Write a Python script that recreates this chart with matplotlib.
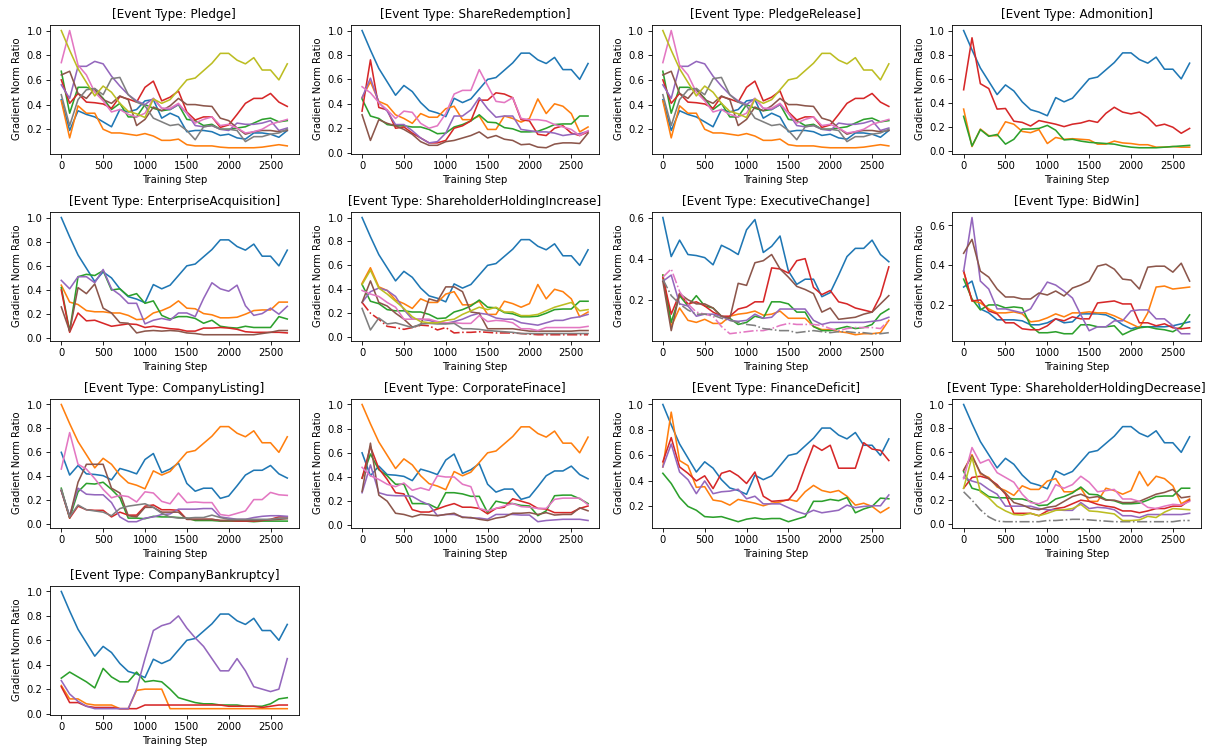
import numpy as np
import matplotlib
matplotlib.use("Agg")
import matplotlib.pyplot as plt

plt.rcParams["font.size"] = 9.5

# --- DATA ---
steps = list(range(0, 2800, 100))

# curves that show up in several panels
main_curve = [1.0, 0.84, 0.69, 0.58, 0.47, 0.55, 0.50, 0.41, 0.345, 0.325, 0.295, 0.445, 0.41, 0.44,
              0.52, 0.60, 0.615, 0.675, 0.735, 0.815, 0.815, 0.76, 0.73, 0.78, 0.68, 0.68, 0.60, 0.73]
second_curve = [0.60, 0.41, 0.49, 0.42, 0.415, 0.405, 0.37, 0.465, 0.445, 0.42, 0.54, 0.59, 0.43, 0.46,
                0.51, 0.34, 0.275, 0.30, 0.30, 0.215, 0.235, 0.32, 0.41, 0.45, 0.45, 0.49, 0.42, 0.385]
share_orange = [0.45, 0.58, 0.42, 0.39, 0.31, 0.28, 0.24, 0.32, 0.29, 0.29, 0.36, 0.38, 0.27, 0.27,
                0.30, 0.19, 0.19, 0.30, 0.28, 0.25, 0.28, 0.44, 0.32, 0.40, 0.38, 0.32, 0.17, 0.21]
share_green = [0.44, 0.30, 0.28, 0.23, 0.22, 0.22, 0.21, 0.21, 0.19, 0.155, 0.16, 0.21, 0.23, 0.26,
               0.31, 0.25, 0.245, 0.205, 0.195, 0.17, 0.17, 0.175, 0.20, 0.23, 0.235, 0.235, 0.30, 0.30]
admon_red = [0.51, 0.94, 0.56, 0.52, 0.35, 0.355, 0.25, 0.24, 0.21, 0.255, 0.24, 0.225, 0.205, 0.225,
             0.235, 0.255, 0.24, 0.315, 0.365, 0.325, 0.31, 0.325, 0.28, 0.21, 0.225, 0.20, 0.15, 0.19]
small_pink = [0.39, 0.36, 0.34, 0.29, 0.25, 0.15, 0.15, 0.15, 0.15, 0.13, 0.12, 0.12, 0.115, 0.115,
              0.18, 0.13, 0.14, 0.135, 0.12, 0.07, 0.07, 0.055, 0.08, 0.08, 0.08, 0.08, 0.08, 0.09]

# Pledge / PledgeRelease
pledge_blue = [0.44, 0.19, 0.35, 0.32, 0.30, 0.26, 0.22, 0.36, 0.34, 0.36, 0.43, 0.44, 0.29, 0.33,
               0.30, 0.18, 0.19, 0.19, 0.18, 0.15, 0.16, 0.13, 0.12, 0.17, 0.17, 0.16, 0.135, 0.19]
pledge_orange = [0.43, 0.13, 0.39, 0.33, 0.33, 0.20, 0.17, 0.17, 0.16, 0.15, 0.165, 0.145, 0.11, 0.11,
                 0.12, 0.075, 0.065, 0.065, 0.065, 0.055, 0.05, 0.05, 0.05, 0.05, 0.055, 0.065, 0.075, 0.065]
pledge_green = [0.67, 0.33, 0.54, 0.54, 0.52, 0.45, 0.36, 0.41, 0.30, 0.30, 0.40, 0.37, 0.35, 0.36,
                0.40, 0.28, 0.27, 0.23, 0.24, 0.20, 0.20, 0.21, 0.22, 0.25, 0.28, 0.29, 0.26, 0.27]
pledge_purple = [0.56, 0.45, 0.71, 0.71, 0.75, 0.73, 0.63, 0.55, 0.48, 0.43, 0.40, 0.45, 0.37, 0.36,
                 0.40, 0.33, 0.23, 0.22, 0.23, 0.20, 0.19, 0.25, 0.24, 0.24, 0.25, 0.27, 0.19, 0.21]
pledge_brown = [0.64, 0.67, 0.49, 0.45, 0.53, 0.44, 0.41, 0.47, 0.44, 0.23, 0.28, 0.38, 0.35, 0.39,
                0.45, 0.40, 0.40, 0.39, 0.385, 0.29, 0.27, 0.21, 0.16, 0.18, 0.19, 0.19, 0.18, 0.19]
pledge_pink = [0.74, 1.0, 0.72, 0.64, 0.50, 0.43, 0.34, 0.36, 0.32, 0.30, 0.33, 0.45, 0.37, 0.37,
               0.41, 0.33, 0.25, 0.28, 0.30, 0.23, 0.24, 0.21, 0.17, 0.18, 0.20, 0.24, 0.26, 0.28]
pledge_gray = [0.48, 0.23, 0.44, 0.52, 0.53, 0.48, 0.61, 0.62, 0.48, 0.42, 0.39, 0.29, 0.26, 0.23,
               0.24, 0.19, 0.115, 0.22, 0.23, 0.20, 0.20, 0.19, 0.10, 0.14, 0.14, 0.16, 0.17, 0.20]

# ShareRedemption
sr_red = [0.34, 0.76, 0.37, 0.35, 0.20, 0.21, 0.16, 0.12, 0.08, 0.08, 0.10, 0.20, 0.22, 0.26,
          0.43, 0.43, 0.49, 0.48, 0.45, 0.27, 0.26, 0.15, 0.14, 0.20, 0.22, 0.16, 0.14, 0.17]
sr_purple = [0.45, 0.61, 0.41, 0.34, 0.23, 0.23, 0.18, 0.12, 0.08, 0.09, 0.16, 0.30, 0.30, 0.35,
             0.45, 0.36, 0.29, 0.30, 0.30, 0.19, 0.18, 0.17, 0.17, 0.16, 0.14, 0.15, 0.155, 0.175]
sr_brown = [0.31, 0.10, 0.27, 0.24, 0.22, 0.19, 0.15, 0.09, 0.06, 0.06, 0.09, 0.10, 0.12, 0.14,
            0.17, 0.12, 0.14, 0.11, 0.10, 0.065, 0.07, 0.045, 0.04, 0.07, 0.08, 0.08, 0.075, 0.16]
sr_pink = [0.54, 0.49, 0.41, 0.35, 0.28, 0.34, 0.33, 0.24, 0.20, 0.22, 0.32, 0.48, 0.51, 0.51,
           0.68, 0.55, 0.42, 0.41, 0.45, 0.28, 0.27, 0.27, 0.26, 0.23, 0.21, 0.19, 0.14, 0.18]

# Admonition
adm_orange = [0.35, 0.04, 0.185, 0.13, 0.13, 0.245, 0.225, 0.165, 0.155, 0.18, 0.065, 0.115, 0.10, 0.105,
              0.10, 0.095, 0.06, 0.06, 0.085, 0.07, 0.065, 0.055, 0.055, 0.035, 0.035, 0.04, 0.035, 0.035]
adm_green = [0.29, 0.045, 0.18, 0.125, 0.14, 0.06, 0.10, 0.185, 0.185, 0.19, 0.215, 0.175, 0.095, 0.10,
             0.085, 0.075, 0.07, 0.065, 0.06, 0.045, 0.035, 0.03, 0.03, 0.03, 0.035, 0.04, 0.045, 0.05]

# EnterpriseAcquisition
ea_green = [0.42, 0.06, 0.51, 0.53, 0.52, 0.56, 0.40, 0.41, 0.35, 0.37, 0.29, 0.31, 0.19, 0.16,
            0.18, 0.18, 0.165, 0.125, 0.15, 0.10, 0.09, 0.085, 0.10, 0.09, 0.09, 0.09, 0.18, 0.16]
ea_red = [0.40, 0.05, 0.21, 0.145, 0.15, 0.125, 0.10, 0.11, 0.12, 0.115, 0.09, 0.10, 0.09, 0.08,
          0.075, 0.06, 0.06, 0.085, 0.085, 0.09, 0.085, 0.075, 0.055, 0.05, 0.05, 0.05, 0.05, 0.045]
ea_purple = [0.48, 0.41, 0.51, 0.51, 0.46, 0.57, 0.41, 0.36, 0.29, 0.29, 0.12, 0.15, 0.165, 0.15,
             0.21, 0.21, 0.18, 0.33, 0.46, 0.41, 0.39, 0.44, 0.27, 0.19, 0.205, 0.25, 0.20, 0.265]
ea_brown = [0.26, 0.06, 0.42, 0.37, 0.45, 0.25, 0.21, 0.13, 0.125, 0.045, 0.06, 0.065, 0.06, 0.065,
            0.06, 0.045, 0.04, 0.03, 0.03, 0.03, 0.03, 0.03, 0.03, 0.03, 0.04, 0.05, 0.065, 0.065]

# ShareholderHoldingIncrease
shi_red = [0.29, 0.20, 0.15, 0.09, 0.08, 0.065, 0.08, 0.10, 0.095, 0.06, 0.08, 0.035, 0.04, 0.04,
           0.045, 0.04, 0.035, 0.035, 0.035, 0.03, 0.025, 0.02, 0.02, 0.02, 0.02, 0.02, 0.02, 0.02]
shi_purple = [0.29, 0.38, 0.41, 0.39, 0.34, 0.23, 0.15, 0.15, 0.14, 0.12, 0.115, 0.13, 0.15, 0.18,
              0.20, 0.19, 0.16, 0.15, 0.15, 0.12, 0.11, 0.10, 0.12, 0.14, 0.14, 0.16, 0.17, 0.19]
shi_brown = [0.29, 0.47, 0.29, 0.26, 0.20, 0.15, 0.085, 0.10, 0.32, 0.30, 0.42, 0.42, 0.38, 0.21,
             0.20, 0.07, 0.07, 0.07, 0.07, 0.06, 0.05, 0.05, 0.05, 0.05, 0.05, 0.05, 0.055, 0.055]
shi_gray = [0.24, 0.06, 0.16, 0.11, 0.12, 0.10, 0.08, 0.11, 0.115, 0.11, 0.11, 0.115, 0.07, 0.07,
            0.065, 0.055, 0.05, 0.045, 0.04, 0.03, 0.03, 0.03, 0.03, 0.03, 0.03, 0.03, 0.03, 0.03]
shi_olive = [0.44, 0.56, 0.41, 0.36, 0.30, 0.24, 0.17, 0.13, 0.12, 0.12, 0.14, 0.15, 0.19, 0.22,
             0.25, 0.23, 0.25, 0.21, 0.21, 0.18, 0.18, 0.19, 0.22, 0.25, 0.27, 0.29, 0.22, 0.23]

# ExecutiveChange
ec_orange = [0.32, 0.07, 0.16, 0.10, 0.09, 0.105, 0.085, 0.085, 0.12, 0.13, 0.135, 0.145, 0.125, 0.13,
             0.145, 0.11, 0.11, 0.11, 0.07, 0.055, 0.055, 0.045, 0.04, 0.03, 0.035, 0.035, 0.04, 0.10]
ec_green = [0.32, 0.09, 0.22, 0.17, 0.22, 0.17, 0.16, 0.12, 0.11, 0.08, 0.09, 0.12, 0.11, 0.19,
            0.19, 0.18, 0.14, 0.14, 0.07, 0.05, 0.05, 0.06, 0.07, 0.06, 0.065, 0.08, 0.13, 0.155]
ec_red = [0.31, 0.13, 0.23, 0.18, 0.19, 0.17, 0.14, 0.12, 0.12, 0.155, 0.165, 0.19, 0.19, 0.355,
          0.35, 0.33, 0.39, 0.40, 0.26, 0.225, 0.245, 0.19, 0.18, 0.16, 0.15, 0.14, 0.22, 0.36]
ec_purple = [0.29, 0.32, 0.18, 0.17, 0.12, 0.13, 0.13, 0.12, 0.10, 0.095, 0.10, 0.13, 0.11, 0.115,
             0.155, 0.155, 0.155, 0.155, 0.10, 0.08, 0.09, 0.09, 0.09, 0.09, 0.09, 0.095, 0.10, 0.115]
ec_brown = [0.29, 0.05, 0.23, 0.20, 0.18, 0.18, 0.16, 0.12, 0.11, 0.28, 0.27, 0.38, 0.39, 0.42,
            0.35, 0.31, 0.265, 0.25, 0.23, 0.14, 0.16, 0.105, 0.11, 0.115, 0.13, 0.14, 0.18, 0.22]
ec_pink = [0.31, 0.35, 0.24, 0.18, 0.14, 0.13, 0.12, 0.07, 0.035, 0.04, 0.045, 0.05, 0.05, 0.06,
           0.075, 0.085, 0.08, 0.08, 0.08, 0.075, 0.06, 0.05, 0.06, 0.065, 0.065, 0.065, 0.06, 0.10]
ec_gray = [0.30, 0.22, 0.18, 0.15, 0.13, 0.13, 0.125, 0.11, 0.10, 0.09, 0.08, 0.075, 0.06, 0.055,
           0.05, 0.05, 0.04, 0.045, 0.05, 0.045, 0.04, 0.045, 0.045, 0.04, 0.04, 0.035, 0.035, 0.04]

# BidWin
bw_blue = [0.29, 0.32, 0.18, 0.16, 0.125, 0.125, 0.125, 0.12, 0.10, 0.10, 0.11, 0.13, 0.11, 0.115,
           0.155, 0.155, 0.155, 0.15, 0.13, 0.10, 0.08, 0.09, 0.09, 0.09, 0.09, 0.095, 0.105, 0.115]
bw_orange = [0.37, 0.22, 0.21, 0.18, 0.16, 0.16, 0.165, 0.155, 0.115, 0.12, 0.135, 0.155, 0.14, 0.16,
             0.16, 0.165, 0.16, 0.16, 0.145, 0.125, 0.105, 0.085, 0.16, 0.29, 0.295, 0.28, 0.285, 0.29]
bw_green = [0.33, 0.23, 0.175, 0.20, 0.20, 0.185, 0.19, 0.185, 0.095, 0.06, 0.06, 0.065, 0.055, 0.055,
            0.10, 0.10, 0.09, 0.09, 0.095, 0.05, 0.07, 0.085, 0.09, 0.08, 0.075, 0.065, 0.09, 0.15]
bw_red = [0.37, 0.22, 0.225, 0.17, 0.155, 0.11, 0.11, 0.08, 0.075, 0.075, 0.095, 0.13, 0.12, 0.14,
          0.13, 0.13, 0.21, 0.215, 0.22, 0.205, 0.205, 0.11, 0.11, 0.095, 0.105, 0.085, 0.08, 0.085]
bw_purple = [0.37, 0.64, 0.32, 0.28, 0.18, 0.18, 0.17, 0.16, 0.18, 0.25, 0.315, 0.30, 0.27, 0.235,
             0.15, 0.07, 0.09, 0.09, 0.12, 0.12, 0.17, 0.175, 0.175, 0.13, 0.13, 0.095, 0.055, 0.055]
bw_brown = [0.46, 0.53, 0.37, 0.34, 0.28, 0.24, 0.24, 0.23, 0.23, 0.26, 0.25, 0.27, 0.245, 0.285,
            0.30, 0.32, 0.395, 0.405, 0.38, 0.33, 0.325, 0.28, 0.39, 0.395, 0.395, 0.365, 0.41, 0.32]

# CompanyListing
cl_green = [0.30, 0.05, 0.27, 0.34, 0.335, 0.35, 0.29, 0.22, 0.05, 0.05, 0.045, 0.065, 0.06, 0.06,
            0.055, 0.05, 0.03, 0.03, 0.03, 0.025, 0.025, 0.025, 0.025, 0.02, 0.025, 0.025, 0.025, 0.025]
cl_red = [0.28, 0.05, 0.15, 0.12, 0.115, 0.115, 0.06, 0.10, 0.075, 0.075, 0.15, 0.16, 0.12, 0.12,
          0.115, 0.04, 0.04, 0.04, 0.04, 0.03, 0.03, 0.025, 0.025, 0.025, 0.03, 0.04, 0.06, 0.06]
cl_purple = [0.28, 0.07, 0.30, 0.25, 0.245, 0.245, 0.18, 0.06, 0.02, 0.02, 0.05, 0.06, 0.08, 0.085,
             0.125, 0.125, 0.125, 0.13, 0.13, 0.06, 0.05, 0.04, 0.04, 0.055, 0.065, 0.07, 0.07, 0.065]
cl_brown = [0.28, 0.06, 0.35, 0.50, 0.50, 0.50, 0.30, 0.26, 0.07, 0.06, 0.14, 0.14, 0.10, 0.10,
            0.10, 0.04, 0.04, 0.04, 0.04, 0.03, 0.03, 0.03, 0.03, 0.03, 0.035, 0.035, 0.04, 0.045]
cl_pink = [0.46, 0.765, 0.50, 0.46, 0.38, 0.29, 0.22, 0.24, 0.23, 0.185, 0.27, 0.26, 0.19, 0.17,
           0.26, 0.18, 0.185, 0.18, 0.18, 0.08, 0.07, 0.09, 0.11, 0.205, 0.205, 0.265, 0.245, 0.24]
cl_gray = [0.29, 0.06, 0.16, 0.12, 0.11, 0.10, 0.07, 0.13, 0.15, 0.16, 0.17, 0.14, 0.09, 0.06,
           0.05, 0.05, 0.055, 0.055, 0.075, 0.055, 0.04, 0.04, 0.04, 0.04, 0.04, 0.04, 0.05, 0.05]

# CorporateFinace
cf_green = [0.39, 0.59, 0.46, 0.41, 0.34, 0.34, 0.18, 0.18, 0.175, 0.14, 0.27, 0.27, 0.26, 0.24,
            0.24, 0.105, 0.20, 0.185, 0.18, 0.165, 0.16, 0.08, 0.12, 0.245, 0.25, 0.25, 0.22, 0.18]
cf_red = [0.39, 0.65, 0.47, 0.38, 0.27, 0.26, 0.13, 0.11, 0.11, 0.135, 0.16, 0.18, 0.15, 0.15,
          0.14, 0.095, 0.14, 0.15, 0.22, 0.20, 0.18, 0.14, 0.135, 0.105, 0.105, 0.105, 0.14, 0.16]
cf_purple = [0.27, 0.50, 0.27, 0.25, 0.245, 0.245, 0.24, 0.20, 0.17, 0.08, 0.09, 0.09, 0.07, 0.06,
             0.06, 0.05, 0.09, 0.09, 0.09, 0.085, 0.085, 0.03, 0.04, 0.045, 0.05, 0.05, 0.05, 0.04]
cf_brown = [0.28, 0.68, 0.25, 0.20, 0.10, 0.09, 0.07, 0.09, 0.085, 0.08, 0.09, 0.10, 0.065, 0.065,
            0.05, 0.04, 0.06, 0.07, 0.10, 0.10, 0.105, 0.09, 0.105, 0.085, 0.09, 0.09, 0.145, 0.12]
cf_pink = [0.48, 0.41, 0.38, 0.34, 0.32, 0.35, 0.29, 0.31, 0.29, 0.41, 0.40, 0.40, 0.34, 0.32,
           0.14, 0.12, 0.14, 0.16, 0.18, 0.155, 0.15, 0.14, 0.14, 0.215, 0.225, 0.225, 0.225, 0.17]

# FinanceDeficit
fd_green = [0.46, 0.38, 0.27, 0.20, 0.17, 0.12, 0.115, 0.12, 0.10, 0.08, 0.10, 0.11, 0.10, 0.105,
            0.105, 0.08, 0.10, 0.12, 0.24, 0.24, 0.255, 0.245, 0.27, 0.15, 0.18, 0.20, 0.265, 0.26]
fd_red = [0.55, 0.74, 0.51, 0.46, 0.40, 0.44, 0.34, 0.46, 0.48, 0.44, 0.38, 0.47, 0.28, 0.24,
          0.245, 0.25, 0.33, 0.51, 0.68, 0.64, 0.68, 0.50, 0.50, 0.50, 0.70, 0.65, 0.64, 0.56]
fd_purple = [0.51, 0.69, 0.47, 0.41, 0.30, 0.40, 0.30, 0.315, 0.32, 0.335, 0.26, 0.28, 0.22, 0.22,
             0.22, 0.19, 0.16, 0.14, 0.17, 0.15, 0.16, 0.17, 0.21, 0.19, 0.20, 0.205, 0.205, 0.29]

# ShareholderHoldingDecrease
shd_red = [0.30, 0.39, 0.40, 0.38, 0.33, 0.25, 0.09, 0.09, 0.09, 0.07, 0.11, 0.13, 0.14, 0.17,
           0.20, 0.19, 0.165, 0.15, 0.14, 0.11, 0.11, 0.095, 0.11, 0.13, 0.13, 0.15, 0.15, 0.20]
shd_brown = [0.45, 0.57, 0.43, 0.38, 0.32, 0.26, 0.18, 0.16, 0.13, 0.12, 0.14, 0.15, 0.19, 0.23,
             0.25, 0.22, 0.23, 0.20, 0.20, 0.18, 0.18, 0.19, 0.22, 0.25, 0.265, 0.29, 0.22, 0.23]
shd_pink = [0.38, 0.64, 0.51, 0.54, 0.43, 0.39, 0.35, 0.25, 0.18, 0.17, 0.20, 0.33, 0.30, 0.33,
            0.40, 0.35, 0.27, 0.28, 0.29, 0.21, 0.21, 0.19, 0.14, 0.13, 0.15, 0.165, 0.16, 0.19]
shd_gray = [0.27, 0.20, 0.12, 0.06, 0.025, 0.02, 0.02, 0.02, 0.02, 0.02, 0.03, 0.03, 0.035, 0.04,
            0.04, 0.035, 0.03, 0.025, 0.02, 0.02, 0.02, 0.02, 0.02, 0.02, 0.02, 0.02, 0.03, 0.03]
shd_olive = [0.30, 0.56, 0.27, 0.22, 0.15, 0.11, 0.08, 0.075, 0.09, 0.07, 0.09, 0.115, 0.12, 0.13,
             0.165, 0.11, 0.105, 0.095, 0.085, 0.03, 0.03, 0.035, 0.065, 0.055, 0.10, 0.13, 0.125, 0.12]

# CompanyBankruptcy
cb_orange = [0.23, 0.12, 0.12, 0.08, 0.07, 0.07, 0.07, 0.04, 0.04, 0.19, 0.20, 0.20, 0.20, 0.04,
             0.04, 0.04, 0.04, 0.04, 0.04, 0.04, 0.04, 0.04, 0.04, 0.04, 0.04, 0.04, 0.04, 0.04]
cb_green = [0.29, 0.34, 0.30, 0.26, 0.21, 0.37, 0.30, 0.26, 0.26, 0.34, 0.26, 0.27, 0.26, 0.20,
            0.13, 0.11, 0.09, 0.08, 0.08, 0.07, 0.07, 0.07, 0.06, 0.06, 0.06, 0.08, 0.12, 0.13]
cb_red = [0.22, 0.09, 0.09, 0.06, 0.05, 0.05, 0.05, 0.04, 0.04, 0.04, 0.07, 0.07, 0.07, 0.07,
          0.07, 0.07, 0.07, 0.07, 0.07, 0.07, 0.06, 0.06, 0.06, 0.06, 0.05, 0.06, 0.07, 0.07]
cb_purple = [0.27, 0.16, 0.10, 0.06, 0.04, 0.04, 0.04, 0.04, 0.04, 0.20, 0.45, 0.68, 0.72, 0.74,
             0.80, 0.70, 0.62, 0.55, 0.45, 0.35, 0.35, 0.45, 0.35, 0.22, 0.20, 0.18, 0.20, 0.45]

SOLID = "-"
DASHDOT = "-."

panels = [
    ("Pledge", [("C0", SOLID, pledge_blue), ("C1", SOLID, pledge_orange), ("C2", SOLID, pledge_green),
                ("C3", SOLID, second_curve), ("C4", SOLID, pledge_purple), ("C5", SOLID, pledge_brown),
                ("C6", SOLID, pledge_pink), ("C7", SOLID, pledge_gray), ("C8", SOLID, main_curve)]),
    ("ShareRedemption", [("C0", SOLID, main_curve), ("C1", SOLID, share_orange), ("C2", SOLID, share_green),
                         ("C3", SOLID, sr_red), ("C4", SOLID, sr_purple), ("C5", SOLID, sr_brown),
                         ("C6", SOLID, sr_pink)]),
    ("PledgeRelease", [("C0", SOLID, pledge_blue), ("C1", SOLID, pledge_orange), ("C2", SOLID, pledge_green),
                       ("C3", SOLID, second_curve), ("C4", SOLID, pledge_purple), ("C5", SOLID, pledge_brown),
                       ("C6", SOLID, pledge_pink), ("C7", SOLID, pledge_gray), ("C8", SOLID, main_curve)]),
    ("Admonition", [("C0", SOLID, main_curve), ("C1", SOLID, adm_orange), ("C2", SOLID, adm_green),
                    ("C3", SOLID, admon_red)]),
    ("EnterpriseAcquisition", [("C0", SOLID, main_curve), ("C1", SOLID, share_green), ("C2", SOLID, ea_green),
                               ("C3", SOLID, ea_red), ("C4", SOLID, ea_purple), ("C5", SOLID, ea_brown)]),
    ("ShareholderHoldingIncrease", [("C0", SOLID, main_curve), ("C1", SOLID, share_orange),
                                    ("C2", SOLID, share_green), ("C3", DASHDOT, shi_red),
                                    ("C4", SOLID, shi_purple), ("C5", SOLID, shi_brown),
                                    ("C6", SOLID, small_pink), ("C7", SOLID, shi_gray),
                                    ("C8", SOLID, shi_olive)]),
    ("ExecutiveChange", [("C0", SOLID, second_curve), ("C1", SOLID, ec_orange), ("C2", SOLID, ec_green),
                         ("C3", SOLID, ec_red), ("C4", SOLID, ec_purple), ("C5", SOLID, ec_brown),
                         ("C6", DASHDOT, ec_pink), ("C7", DASHDOT, ec_gray)]),
    ("BidWin", [("C0", SOLID, bw_blue), ("C1", SOLID, bw_orange), ("C2", SOLID, bw_green),
                ("C3", SOLID, bw_red), ("C4", SOLID, bw_purple), ("C5", SOLID, bw_brown)]),
    ("CompanyListing", [("C0", SOLID, second_curve), ("C1", SOLID, main_curve), ("C2", SOLID, cl_green),
                        ("C3", SOLID, cl_red), ("C4", SOLID, cl_purple), ("C5", SOLID, cl_brown),
                        ("C6", SOLID, cl_pink), ("C7", SOLID, cl_gray)]),
    ("CorporateFinace", [("C0", SOLID, second_curve), ("C1", SOLID, main_curve), ("C2", SOLID, cf_green),
                         ("C3", SOLID, cf_red), ("C4", SOLID, cf_purple), ("C5", SOLID, cf_brown),
                         ("C6", SOLID, cf_pink)]),
    ("FinanceDeficit", [("C0", SOLID, main_curve), ("C1", SOLID, admon_red), ("C2", SOLID, fd_green),
                        ("C3", SOLID, fd_red), ("C4", SOLID, fd_purple)]),
    ("ShareholderHoldingDecrease", [("C0", SOLID, main_curve), ("C1", SOLID, share_orange),
                                    ("C2", SOLID, share_green), ("C3", SOLID, shd_red),
                                    ("C4", SOLID, small_pink), ("C5", SOLID, shd_brown),
                                    ("C6", SOLID, shd_pink), ("C7", DASHDOT, shd_gray),
                                    ("C8", SOLID, shd_olive)]),
    ("CompanyBankruptcy", [("C0", SOLID, main_curve), ("C1", SOLID, cb_orange), ("C2", SOLID, cb_green),
                           ("C3", SOLID, cb_red), ("C4", SOLID, cb_purple)]),
]

# --- PLOT ---
fig, axes = plt.subplots(4, 4, figsize=(16, 9.83), dpi=76.2)
fig.subplots_adjust(left=0.041, right=0.985, top=0.967, bottom=0.046, wspace=0.21, hspace=0.45)
axes = axes.flatten()

for ax, (name, lines) in zip(axes, panels):
    for color, style, values in lines:
        ax.plot(steps, values, color=color, linestyle=style)
    ax.set_title(f"[Event Type: {name}]")
    ax.set_xlabel("Training Step")
    ax.set_ylabel("Gradient Norm Ratio")
    ax.set_xticks([0, 500, 1000, 1500, 2000, 2500])

# the grid has 16 slots but only 13 event types
for ax in axes[len(panels):]:
    ax.axis("off")

fig.savefig("out.png", dpi=76.2)
